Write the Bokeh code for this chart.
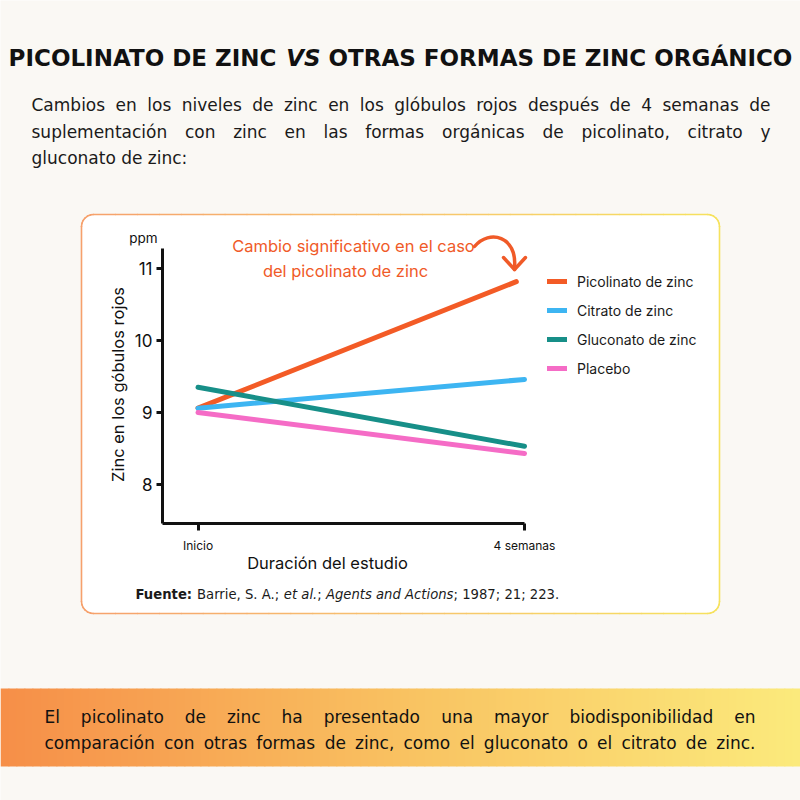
import numpy as np
from bokeh.plotting import figure
from bokeh.layouts import column
from bokeh.models import (Range1d, FixedTicker, Label, BoxAnnotation, Legend, LegendItem,
                          GridBox)
from bokeh.embed import file_html
from bokeh.resources import INLINE

# ---------------- data ----------------
series_names = ["Picolinato de zinc", "Citrato de zinc", "Gluconato de zinc", "Placebo"]
picolinato_x = [0, 3.9]
picolinato = [9.06, 10.82]
citrato_x = [0, 4]
citrato = [9.06, 9.46]
gluconato_x = [0, 4]
gluconato = [9.35, 8.53]
placebo_x = [0, 4]
placebo = [9.00, 8.43]
y_ticks = [8, 9, 10, 11]
x_ticks = [0, 4]
x_tick_labels = ["Inicio", "4 semanas"]

title_parts = ["PICOLINATO DE ZINC", "VS", "OTRAS FORMAS DE ZINC ORGÁNICO"]
subtitle_lines = [
    "Cambios en los niveles de zinc en los glóbulos rojos después de 4 semanas de",
    "suplementación con zinc en las formas orgánicas de picolinato, citrato y",
    "gluconato de zinc:",
]
banner_lines = [
    "El picolinato de zinc ha presentado una mayor biodisponibilidad en",
    "comparación con otras formas de zinc, como el gluconato o el citrato de zinc.",
]
note_lines = ["Cambio significativo en el caso", "del picolinato de zinc"]
y_label = "Zinc en los góbulos rojos"
x_label = "Duración del estudio"
unit_label = "ppm"
source_parts = [("Fuente:", "bold", True), ("Barrie, S. A.;", "normal", True),
                ("et al.", "italic", False), (";", "normal", True),
                ("Agents and Actions", "italic", False), ("; 1987; 21; 223.", "normal", False)]

colors = ["#f35b26", "#3db5f2", "#178f88", "#f56cc6"]

# ---------------- layout (page pixels) ----------------
W = H = 800
FL, FR, FT, FB = 162, 719, 214, 523      # chart frame edges on page
PX_X0, PX_X4 = 197.5, 524.0              # pixel of x=0 and x=4
PX_Y9, PPU_Y = 412.0, 71.9               # pixel of y=9, px per unit
ppu_x = (PX_X4 - PX_X0) / 4
X0 = 0 - (PX_X0 - FL) / ppu_x
X1 = 4 + (FR - PX_X4) / ppu_x
Y0 = 9 - (FB - PX_Y9) / PPU_Y
Y1 = 9 + (PX_Y9 - FT) / PPU_Y
Y_AXIS_TOP = 9 + (PX_Y9 - 248) / PPU_Y

INK = "#111111"
CH_FONT = "Inter"
TX_FONT = "DejaVu Sans"
BG = "#faf8f4"

# ---------------- background / decoration figure ----------------
d = figure(width=W, height=H, output_backend="svg", toolbar_location=None,
           x_range=Range1d(0, W), y_range=Range1d(H, 0), min_border=0,
           x_axis_location=None, y_axis_location=None)
d.border_fill_color = BG
d.background_fill_color = BG
d.outline_line_color = None
d.grid.visible = False


def lab(text, X, Y, size, font=TX_FONT, style="normal", color=INK, align="left",
        baseline="middle", angle=0.0):
    d.add_layout(Label(x=X, y=Y, text=text, text_font=font, text_font_size=f"{size}px",
                       text_font_style=style, text_color=color, text_align=align,
                       text_baseline=baseline, angle=angle))


def mix(c1, c2, t):
    a = [int(c1[i:i + 2], 16) for i in (1, 3, 5)]
    b = [int(c2[i:i + 2], 16) for i in (1, 3, 5)]
    return "#%02x%02x%02x" % tuple(int(round(a[k] + (b[k] - a[k]) * t)) for k in range(3))


def grad3(c1, c2, c3, t):
    t = min(max(t, 0), 1)
    return mix(c1, c2, t * 2) if t < 0.5 else mix(c2, c3, (t - 0.5) * 2)


# approx. DejaVu Sans advance widths (em)
REG = dict(zip("abcdefghijklmnopqrstuvwxyz",
               [.613, .635, .550, .635, .615, .352, .635, .634, .278, .278, .579, .278, .974,
                .634, .612, .635, .635, .411, .521, .392, .634, .592, .818, .592, .592, .525]))
REG.update(dict(zip("ABCDEFGHIJKLMNOPQRSTUVWXYZ",
                    [.684, .686, .698, .770, .632, .575, .775, .752, .295, .295, .656, .557, .863,
                     .748, .787, .603, .787, .695, .635, .611, .732, .684, .989, .685, .611, .685])))
REG.update({"á": .613, "é": .615, "í": .278, "ó": .612, " ": .318, ",": .318, ".": .318,
            ":": .337, ";": .337, "Á": .684})
REG.update({str(k): .636 for k in range(10)})
BOLD = dict(zip("abcdefghijklmnopqrstuvwxyz",
                [.675, .716, .593, .716, .678, .435, .716, .712, .343, .343, .665, .343, 1.042,
                 .712, .687, .716, .716, .493, .595, .478, .712, .652, .924, .645, .652, .582]))
BOLD.update(dict(zip("ABCDEFGHIJKLMNOPQRSTUVWXYZ",
                     [.774, .762, .734, .830, .683, .683, .821, .837, .372, .372, .775, .637, .995,
                      .837, .850, .733, .850, .770, .720, .682, .812, .774, 1.103, .771, .724, .725])))
BOLD.update({" ": .348, "Á": .774, ":": .400, ".": .380, ",": .380, ";": .400})


def tw(s, size, bold=False):
    tab = BOLD if bold else REG
    return sum(tab.get(ch, .62) for ch in s) * size


def justified(line, left, right, Y, size, color=INK):
    words = line.split(" ")
    widths = [tw(w, size) for w in words]
    gap = (right - left - sum(widths)) / (len(words) - 1)
    if gap < 0.2 * size:
        lab(line, left, Y, size, color=color)
        return
    x = left
    for i, (w, wd) in enumerate(zip(words, widths)):
        if i == len(words) - 1:
            lab(w, right, Y, size, color=color, align="right")
        else:
            lab(w, x, Y, size, color=color)
        x += wd + gap


# card
CL, CT, CR, CB, RAD = 81, 214, 719, 613, 12
d.add_layout(BoxAnnotation(left=CL, right=CR, top=CT, bottom=CB, fill_color="#ffffff",
                           fill_alpha=1.0, line_color=None, border_radius=RAD,
                           level="underlay"))


def rr_points(l, t, r, b, rad, n_edge=28, n_arc=6):
    pts = []
    for i in range(n_edge + 1):
        pts.append((l + rad + (r - l - 2 * rad) * i / n_edge, t))
    for i in range(1, n_arc + 1):
        a = -np.pi / 2 + (np.pi / 2) * i / n_arc
        pts.append((r - rad + rad * np.cos(a), t + rad + rad * np.sin(a)))
    pts.append((r, b - rad))
    for i in range(1, n_arc + 1):
        a = (np.pi / 2) * i / n_arc
        pts.append((r - rad + rad * np.cos(a), b - rad + rad * np.sin(a)))
    for i in range(1, n_edge + 1):
        pts.append((r - rad - (r - l - 2 * rad) * i / n_edge, b))
    for i in range(1, n_arc + 1):
        a = np.pi / 2 + (np.pi / 2) * i / n_arc
        pts.append((l + rad + rad * np.cos(a), b - rad + rad * np.sin(a)))
    pts.append((l, t + rad))
    for i in range(1, n_arc + 1):
        a = np.pi + (np.pi / 2) * i / n_arc
        pts.append((l + rad + rad * np.cos(a), t + rad + rad * np.sin(a)))
    return pts


pts = rr_points(CL, CT, CR, CB, RAD)
bx0 = [a[0] for a in pts[:-1]]
by0 = [a[1] for a in pts[:-1]]
bx1 = [b[0] for b in pts[1:]]
by1 = [b[1] for b in pts[1:]]
bcol = [grad3("#f6a06c", "#f7c36e", "#f6e25e", ((a + b) / 2 - CL) / (CR - CL))
        for a, b in zip(bx0, bx1)]
d.segment(bx0, by0, bx1, by1, line_color=bcol, line_width=1.6, line_cap="round")

# banner
BT, BB = 688, 766
step = 8
lefts = list(range(0, W, step))
d.quad(left=lefts, right=[x + step + 0.8 for x in lefts], top=BT, bottom=BB,
       fill_color=[grad3("#f68e48", "#f9c261", "#fbea7c", (x + step / 2) / W) for x in lefts],
       line_color=None)

# chart texts
lab(unit_label, 143, 237, 13.5, font=CH_FONT, align="center")
lab(x_label, 327, 562, 16.5, font=CH_FONT, align="center")
lab(y_label, 117, 384, 16.5, font=CH_FONT, align="center", angle=np.pi / 2)

ORANGE = "#f05a28"
lab(note_lines[0], 353, 245, 16.5, font=CH_FONT, color=ORANGE, align="center")
lab(note_lines[1], 345, 270, 16.5, font=CH_FONT, color=ORANGE, align="center")
d.bezier(x0=[474], y0=[246], x1=[514], y1=[267], cx0=[489], cy0=[228], cx1=[517], cy1=[236],
         line_color=ORANGE, line_width=3.5, line_cap="round")
d.segment(x0=[503, 525], y0=[257, 257], x1=[514, 514], y1=[269, 269],
          line_color=ORANGE, line_width=3.5, line_cap="round")

SRC_SIZE = 13.2
x = 135
for txt, style, space_after in source_parts:
    lab(txt, x, 594, SRC_SIZE, style=style, color="#1a1a1a")
    x += tw(txt, SRC_SIZE, bold=(style == "bold")) + (REG[" "] * SRC_SIZE if space_after else 0)

# title
T_SIZE = 23
w1 = tw(title_parts[0], T_SIZE, True)
wv = tw(title_parts[1], T_SIZE, True)
w3 = tw(title_parts[2], T_SIZE, True)
sp = BOLD[" "] * T_SIZE
tx = 400 - (w1 + wv + w3 + 2 * sp) / 2
lab(title_parts[0], tx, 57, T_SIZE, style="bold")
lab(title_parts[1], tx + w1 + sp, 57, T_SIZE, style="bold italic")
lab(title_parts[2], tx + w1 + sp + wv + sp, 57, T_SIZE, style="bold")

justified(subtitle_lines[0], 31, 770, 104, 17, color="#1a1a1a")
justified(subtitle_lines[1], 31, 770, 131, 17, color="#1a1a1a")
lab(subtitle_lines[2], 31, 157, 17, color="#1a1a1a")

justified(banner_lines[0], 44, 755, 716, 17, color=INK)
justified(banner_lines[1], 44, 755, 742, 17, color=INK)

# ---------------- chart figure (on top) ----------------
p = figure(width=W, height=H, output_backend="svg", toolbar_location=None,
           x_range=Range1d(X0, X1), y_range=Range1d(Y0, Y1),
           min_border_left=FL, min_border_right=W - FR,
           min_border_top=FT, min_border_bottom=H - FB)
p.border_fill_color = None
p.background_fill_color = None
p.outline_line_color = None
p.grid.visible = False

xs_list = [picolinato_x, citrato_x, gluconato_x, placebo_x]
ys_list = [picolinato, citrato, gluconato, placebo]
items = []
for name, xs, ys, c in zip(series_names, xs_list, ys_list, colors):
    r = p.line(xs, ys, line_color=c, line_width=5, line_cap="round")
    items.append(LegendItem(label=name, renderers=[r]))

legend = Legend(items=items, location=(547 - FL, FB - 378), padding=0, margin=0, spacing=9,
                glyph_width=20, glyph_height=20, label_height=20, label_standoff=10,
                label_text_font=CH_FONT, label_text_font_size="14px",
                label_text_color="#1a1a1a", border_line_color=None,
                background_fill_alpha=0)
p.add_layout(legend)

for ax in (p.xaxis, p.yaxis):
    ax.axis_line_width = 3
    ax.axis_line_color = INK
    ax.major_tick_line_width = 3
    ax.major_tick_line_color = INK
    ax.major_tick_in = 0
    ax.minor_tick_out = 0
    ax.minor_tick_in = 0
    ax.major_label_text_color = INK
    ax.major_label_text_font = CH_FONT

p.xaxis.ticker = FixedTicker(ticks=x_ticks)
p.xaxis.major_label_overrides = {t: s for t, s in zip(x_ticks, x_tick_labels)}
p.xaxis.bounds = (X0, 4)
p.xaxis.major_tick_out = 7
p.xaxis.major_label_standoff = 7
p.xaxis.major_label_text_font_size = "12px"

p.yaxis.ticker = FixedTicker(ticks=y_ticks)
p.yaxis.bounds = (Y0, Y_AXIS_TOP)
p.yaxis.major_tick_out = 6
p.yaxis.major_label_standoff = 4
p.yaxis.major_label_text_font_size = "17px"

layout = GridBox(children=[(column(d), 0, 0), (column(p), 0, 0)])
open("out.html", "w").write(file_html(layout, INLINE))
